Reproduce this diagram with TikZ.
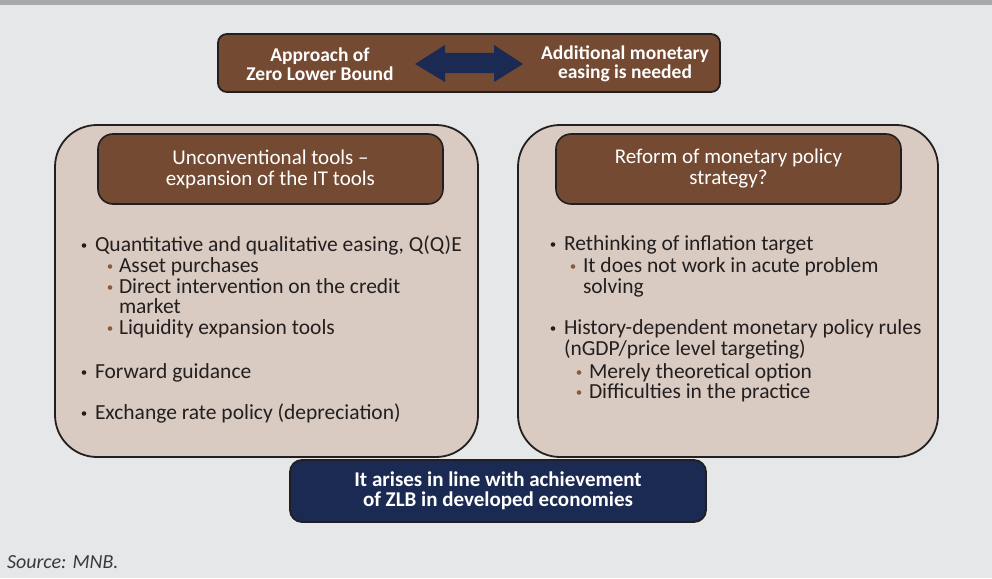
\documentclass[tikz,border=0pt]{standalone}
\usepackage{fontspec}
\setmainfont{Carlito}
\begin{document}
\definecolor{bgc}{HTML}{E6E7E8}
\definecolor{barc}{HTML}{A7A9AC}
\definecolor{brownc}{HTML}{744A32}
\definecolor{tanc}{HTML}{D9CBC1}
\definecolor{navyc}{HTML}{1A2A52}
\definecolor{edgec}{HTML}{231F20}
\definecolor{subdot}{HTML}{8C5A3C}
\definecolor{srcc}{HTML}{3A3A3C}
\begin{tikzpicture}[x=1pt,y=-1pt,
  every node/.style={inner sep=0pt,outer sep=0pt},
  txt/.style={font=\fontsize{21.5}{21}\selectfont,text=edgec,anchor=base west},
  bigbox/.style={draw=edgec,line width=1.8pt,fill=tanc,rounded corners=42pt,rectangle},
  headbox/.style={draw=edgec,line width=1.6pt,fill=brownc,rounded corners=15pt,rectangle,
    minimum width=345pt,minimum height=70pt,text=white,align=center,
    font=\fontsize{21}{21}\selectfont},
  toptext/.style={text=white,align=center,font=\bfseries\fontsize{19.5}{18.5}\selectfont},
  dotmain/.style={fill=edgec,draw=none},
  dotsub/.style={fill=subdot,draw=none}]
% background and top rule
\fill[bgc] (0,0) rectangle (992,578);
\fill[barc] (0,0) rectangle (992,5);
\useasboundingbox (0,0) rectangle (992,578);

% top banner
\node[draw=edgec,line width=1.8pt,fill=brownc,rounded corners=9pt,rectangle,
  minimum width=502pt,minimum height=58pt] (top) at (469,63) {};
\node[toptext] (zlb) at (320,64) {Approach of\\Zero Lower Bound};
\node[toptext] (ease) at (625,64) {Additional monetary\\easing is needed};
\fill[navyc] (415,64) -- (445,45) -- (445,53) -- (494,53) -- (494,45) -- (523,64)
  -- (494,82) -- (494,73) -- (445,73) -- (445,82) -- cycle;

% two large panels
\node[bigbox,minimum width=423pt,minimum height=332pt] (left) at (266.5,291) {};
\node[bigbox,minimum width=420pt,minimum height=332pt] (right) at (728,291) {};

\node[headbox] (lhead) at (270.5,169) {Unconventional tools --\\expansion of the IT tools};
\node[headbox] (rhead) at (728.5,169) {Reform of monetary policy\\strategy?};

% left list
\fill[dotmain] (84,245.5) circle (2.3);
\node[txt] (l1) at (95,251) {Quantitative and qualitative easing, Q(Q)E};
\fill[dotsub] (110,266.5) circle (2.3);
\node[txt] (l2) at (119,272) {Asset purchases};
\fill[dotsub] (110,287.5) circle (2.3);
\node[txt] (l3) at (119,293) {Direct intervention on the credit};
\node[txt] (l4) at (119,313) {market};
\fill[dotsub] (110,328.5) circle (2.3);
\node[txt] (l5) at (119,334) {Liquidity expansion tools};
\fill[dotmain] (84,372.5) circle (2.3);
\node[txt] (l6) at (95,378) {Forward guidance};
\fill[dotmain] (84,413.5) circle (2.3);
\node[txt] (l7) at (95,419) {Exchange rate policy (depreciation)};

% right list
\fill[dotmain] (553,244.5) circle (2.3);
\node[txt] (r1) at (564,250) {Rethinking of inflation target};
\fill[dotsub] (573,266.5) circle (2.3);
\node[txt] (r2) at (583,272) {It does not work in acute problem};
\node[txt] (r3) at (583,293) {solving};
\fill[dotmain] (553,328.5) circle (2.3);
\node[txt] (r4) at (564,334) {History-dependent monetary policy rules};
\node[txt] (r5) at (564,355) {(nGDP/price level targeting)};
\fill[dotsub] (579,372.5) circle (2.3);
\node[txt] (r6) at (589,378) {Merely theoretical option};
\fill[dotsub] (579,392.5) circle (2.3);
\node[txt] (r7) at (589,398) {Difficulties in the practice};

% bottom note
\node[draw=edgec,line width=1.8pt,fill=navyc,rounded corners=12pt,rectangle,
  minimum width=416pt,minimum height=62pt,text=white,align=center,
  font=\bfseries\fontsize{21}{20.5}\selectfont] (zlbnote) at (498,491)
  {It arises in line with achievement\\of ZLB in developed economies};

% source line
\node[anchor=base west,text=srcc,font=\itshape\fontsize{20}{18}\selectfont] (src) at (7,568) {Source: MNB.};
\end{tikzpicture}
\end{document}
